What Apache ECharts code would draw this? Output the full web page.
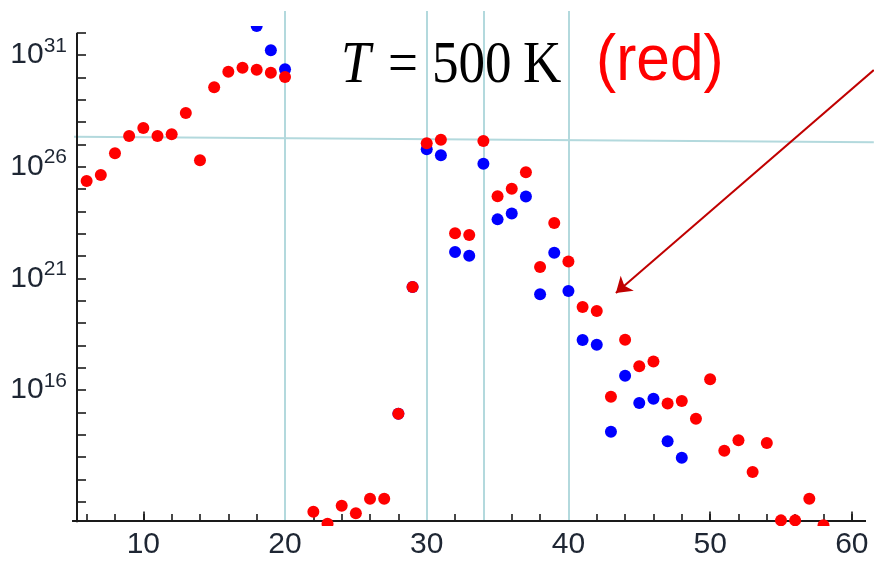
<!DOCTYPE html>
<html><head><meta charset="utf-8">
<script src="https://cdn.jsdelivr.net/npm/echarts@6/dist/echarts.min.js"></script>
<style>html,body{margin:0;padding:0;background:#fff}#c{width:874px;height:564px}</style>
</head><body><div id="c"></div>
<script>
// ---- data (y given as base-10 exponents) ----
const redX   = [6,7,8,9,10,11,12,13,14,15,16,17,18,19,20,22,23,24,25,26,27,28,29,30,31,32,33,34,35,36,37,38,39,40,41,42,43,44,45,46,47,48,49,50,51,52,53,54,55,56,57,58];
const redExp = [25.36,25.63,26.60,27.37,27.73,27.37,27.45,28.40,26.29,29.56,30.25,30.43,30.34,30.21,30.02,10.55,10.01,10.82,10.48,11.13,11.13,14.93,20.61,27.05,27.21,23.02,22.94,27.15,24.68,25.01,25.75,21.51,23.48,21.75,19.72,19.54,15.70,18.25,17.06,17.28,15.39,15.51,14.71,16.48,13.28,13.75,12.33,13.63,10.16,10.16,11.13,9.94];
const blueX   = [18,19,20,28,29,30,31,32,33,34,35,36,37,38,39,40,41,42,43,44,45,46,47,48];
const blueExp = [32.30,31.21,30.36,14.93,20.61,26.78,26.51,22.18,22.01,26.13,23.64,23.90,24.66,20.29,22.15,20.43,18.24,18.03,14.13,16.64,15.42,15.61,13.70,12.96];
const xTickValues  = [6,8,10,12,14,16,18,20,22,24,26,28,30,32,34,36,38,40,42,44,46,48,50,52,54,56,58,60];
const xMajorValues = [10,20,30,40,50,60];
const yTickExp  = [11,12,13,14,15,16,17,18,19,20,21,22,23,24,25,26,27,28,29,30,31,32];
const yLabelExp = [16,21,26,31];
const refLinesX = [20,30,34,40];
// annotation geometry in data units
const xMin = 5.32, xMax = 61.0, yMinExp = 9.908, yMaxExp = 32.30;
const axisExp = 10.131, axisTopExp = 32.0, refTopExp = 32.97;
const hLine = [[5.11, 27.34],[61.55, 27.09]];
const arrow = [[61.55, 30.33],[43.35, 20.34]];

const P = e => Math.pow(10, e);
const toPts = (xs, es) => xs.map((x, i) => [x, P(es[i])]);

const segSeries = (segs, color, width, z, sym) => ({
  type: 'lines', coordinateSystem: 'cartesian2d', clip: false, z: z, silent: true, animation: false,
  symbol: sym || 'none', symbolSize: [0, 15],
  lineStyle: { color: color, width: width, opacity: 1, curveness: 0 },
  data: segs.map(s => ({ coords: s }))
});

const dotSeries = (name, pts, color, z) => ({
  type: 'custom', name: name, data: pts, clip: true, z: z, silent: true, animation: false,
  encode: { x: 0, y: 1 },
  renderItem: (params, api) => {
    const c = api.coord([api.value(0), api.value(1)]);
    return { type: 'circle', shape: { cx: c[0], cy: c[1], r: 6 }, style: { fill: color } };
  }
});

const series = [
  segSeries(refLinesX.map(x => [[x, P(axisExp)], [x, P(refTopExp)]]), '#b3d9dd', 2, 1),
  segSeries([hLine.map(p => [p[0], P(p[1])])], '#b3d9dd', 2, 1),
  segSeries([[[xMin - 0.35, P(axisExp)], [xMax, P(axisExp)]], [[xMin, P(axisExp - 0.06)], [xMin, P(axisTopExp)]]], '#1a1a1a', 2, 2),
  dotSeries('blue', toPts(blueX, blueExp), '#0000ff', 3),
  dotSeries('red', toPts(redX, redExp), '#ff0000', 4),
  segSeries([arrow.map(p => [p[0], P(p[1])])], '#c00000', 2, 5, ['none', 'arrow'])
];

const labelFont = 'Liberation Sans';
const labelColor = '#1e2633';
const option = {
  backgroundColor: '#ffffff',
  animation: false,
  grid: { left: 77, right: 8, top: 26, bottom: 38 },
  xAxis: [{
    type: 'value', min: xMin, max: xMax, offset: -5,
    axisLine: { show: false },
    axisTick: { show: true, inside: true, length: 7, customValues: xTickValues, lineStyle: { color: '#1a1a1a', width: 1.6 } },
    axisLabel: { customValues: xMajorValues, fontSize: 30, fontFamily: labelFont, color: labelColor, margin: 9 },
    splitLine: { show: false }
  }, {
    type: 'value', min: xMin, max: xMax, offset: -5, gridIndex: 0, position: 'bottom',
    axisLine: { show: false },
    axisTick: { show: true, inside: true, length: 9.5, customValues: xMajorValues, lineStyle: { color: '#1a1a1a', width: 1.6 } },
    axisLabel: { show: false },
    splitLine: { show: false }
  }],
  yAxis: {
    type: 'log', logBase: 10, min: P(yMinExp), max: P(yMaxExp),
    axisLine: { show: false },
    axisTick: { show: true, inside: true, length: 9, customValues: yTickExp.map(P), lineStyle: { color: '#1a1a1a', width: 1.6 } },
    axisLabel: {
      customValues: yLabelExp.map(P), margin: 10,
      formatter: v => '{b|10}{s|' + Math.round(Math.log10(v)) + '}',
      rich: {
        b: { fontSize: 30, fontFamily: labelFont, color: labelColor },
        s: { fontSize: 21, fontFamily: labelFont, color: labelColor, padding: [0, 0, 18, 0] }
      }
    },
    splitLine: { show: false }
  },
  graphic: [
    { type: 'text', x: 341, y: 66, scaleX: 0.9, silent: true,
      style: { text: 'T', fontSize: 59, fontStyle: 'italic', fontFamily: 'Liberation Serif', fill: '#000', align: 'left', verticalAlign: 'middle' } },
    { type: 'text', x: 388, y: 66, scaleX: 0.9, silent: true,
      style: { text: '=', fontSize: 59, fontFamily: 'Liberation Serif', fill: '#000', align: 'left', verticalAlign: 'middle' } },
    { type: 'text', x: 432, y: 66, scaleX: 0.9, silent: true,
      style: { text: '500', fontSize: 59, fontFamily: 'Liberation Serif', fill: '#000', align: 'left', verticalAlign: 'middle' } },
    { type: 'text', x: 523, y: 66, scaleX: 0.9, silent: true,
      style: { text: 'K', fontSize: 59, fontFamily: 'Liberation Serif', fill: '#000', align: 'left', verticalAlign: 'middle' } },
    { type: 'text', x: 596, y: 62.5, scaleX: 0.93, silent: true,
      style: { text: '(red)', fontSize: 65, fontFamily: 'Liberation Sans', fill: '#ff0000', align: 'left', verticalAlign: 'middle' } }
  ],
  series: series
};
const chart = echarts.init(document.getElementById('c'), null, { renderer: 'canvas' });
chart.setOption(option);
</script>
</body></html>
